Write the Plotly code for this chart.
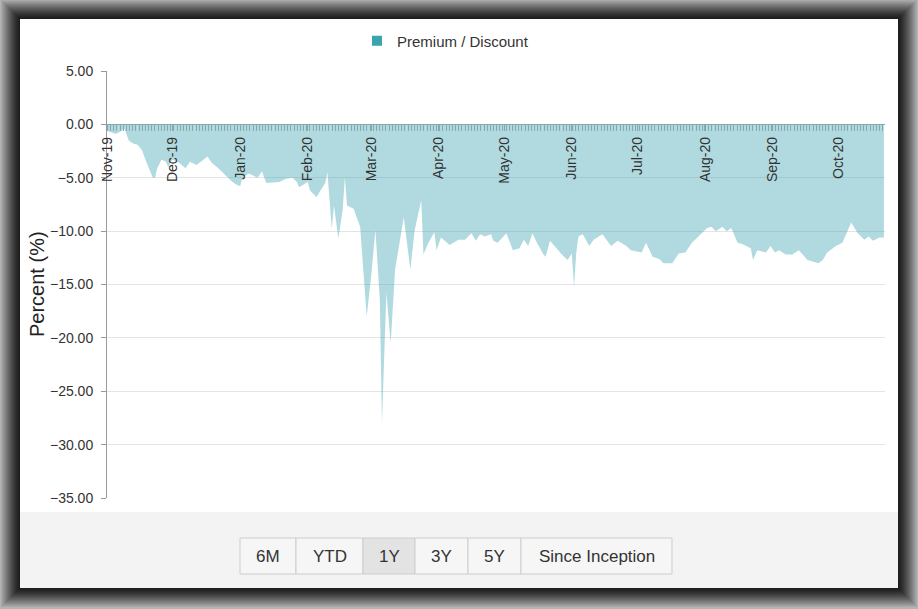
import plotly.graph_objects as go

# Premium / discount to NAV (%)
dates = [
    "2019-11-01", "2019-11-05", "2019-11-07", "2019-11-09", "2019-11-11", "2019-11-13",
    "2019-11-15", "2019-11-17", "2019-11-19", "2019-11-22", "2019-11-23", "2019-11-24",
    "2019-11-26", "2019-11-28", "2019-11-29", "2019-12-01", "2019-12-04", "2019-12-07",
    "2019-12-09", "2019-12-12", "2019-12-14", "2019-12-17", "2019-12-19", "2019-12-22",
    "2019-12-26", "2019-12-28", "2019-12-30", "2020-01-01", "2020-01-02", "2020-01-05",
    "2020-01-09", "2020-01-11", "2020-01-13", "2020-01-19", "2020-01-22", "2020-01-25",
    "2020-01-27", "2020-01-28", "2020-02-01", "2020-02-02", "2020-02-05", "2020-02-06",
    "2020-02-09", "2020-02-10", "2020-02-12", "2020-02-13", "2020-02-15", "2020-02-17",
    "2020-02-18", "2020-02-19", "2020-02-22", "2020-02-25", "2020-02-28", "2020-03-01",
    "2020-03-03", "2020-03-05", "2020-03-06", "2020-03-08", "2020-03-10", "2020-03-12",
    "2020-03-14", "2020-03-16", "2020-03-19", "2020-03-21", "2020-03-24", "2020-03-25",
    "2020-03-27", "2020-03-30", "2020-03-31", "2020-04-02", "2020-04-06", "2020-04-10",
    "2020-04-13", "2020-04-16", "2020-04-18", "2020-04-20", "2020-04-22", "2020-04-25",
    "2020-04-26", "2020-04-28", "2020-05-02", "2020-05-05", "2020-05-08", "2020-05-10",
    "2020-05-12", "2020-05-14", "2020-05-16", "2020-05-19", "2020-05-20", "2020-05-22",
    "2020-05-25", "2020-05-27", "2020-05-30", "2020-06-01", "2020-06-02", "2020-06-03",
    "2020-06-04", "2020-06-06", "2020-06-09", "2020-06-11", "2020-06-15", "2020-06-19",
    "2020-06-22", "2020-06-26", "2020-06-28", "2020-07-03", "2020-07-05", "2020-07-08",
    "2020-07-11", "2020-07-13", "2020-07-17", "2020-07-20", "2020-07-23", "2020-07-26",
    "2020-07-29", "2020-08-02", "2020-08-04", "2020-08-06", "2020-08-09", "2020-08-11",
    "2020-08-13", "2020-08-16", "2020-08-18", "2020-08-22", "2020-08-23", "2020-08-25",
    "2020-08-29", "2020-08-31", "2020-09-02", "2020-09-04", "2020-09-07", "2020-09-10",
    "2020-09-13", "2020-09-17", "2020-09-22", "2020-09-24", "2020-09-26", "2020-09-30",
    "2020-10-03", "2020-10-05", "2020-10-07", "2020-10-10", "2020-10-13", "2020-10-15",
    "2020-10-17", "2020-10-20", "2020-10-22",
]
premium_discount = [
    -0.6, -0.9, -0.7, -0.4, -1.5, -1.8,
    -1.9, -2.4, -3.5, -5.0, -5.0, -4.1,
    -3.3, -3.5, -4.0, -3.3, -3.6, -4.1,
    -3.5, -3.8, -3.5, -3.0, -3.6, -4.1,
    -4.9, -5.3, -5.6, -5.8, -5.0, -4.6,
    -5.0, -4.4, -5.5, -5.4, -5.1, -5.0,
    -5.4, -5.9, -5.4, -6.2, -6.8, -6.5,
    -5.5, -4.5, -9.8, -7.6, -10.7, -8.0,
    -5.0, -7.6, -7.9, -9.6, -18.0, -14.3,
    -9.9, -16.4, -28.0, -15.8, -20.5, -13.6,
    -11.2, -8.7, -13.6, -9.9, -7.1, -12.2,
    -11.2, -10.1, -11.8, -10.6, -11.3, -10.8,
    -10.8, -10.2, -10.9, -10.3, -10.5, -10.3,
    -10.9, -11.1, -10.2, -11.8, -11.6, -10.8,
    -11.4, -10.2, -11.1, -12.2, -12.4, -10.9,
    -11.6, -12.1, -12.7, -12.1, -15.2, -12.1,
    -10.5, -10.3, -11.4, -10.8, -10.3, -11.4,
    -10.9, -11.4, -11.8, -12.0, -11.1, -12.4,
    -12.6, -13.0, -13.0, -12.1, -12.0, -11.1,
    -10.5, -9.7, -9.6, -10.0, -9.6, -10.0,
    -9.7, -11.1, -11.2, -11.6, -12.7, -11.8,
    -12.0, -11.4, -12.0, -11.8, -12.2, -12.2,
    -11.8, -12.7, -13.0, -12.7, -12.0, -11.4,
    -11.1, -10.2, -9.2, -10.2, -10.8, -10.5,
    -10.9, -10.6, -10.6,
]
range_buttons = ["6M", "YTD", "1Y", "3Y", "5Y", "Since Inception"]
active_button = "1Y"

# page geometry (pixels)
W, H = 918, 609
L, R, T, B = 107, 885, 71, 498


def px(x):
    return (x - L) / (R - L)


def py(y):
    return (B - y) / (B - T)


FONT = "Liberation Sans, Arial, sans-serif"

fig = go.Figure()
fig.add_trace(go.Scatter(
    x=dates, y=premium_discount, mode="lines", fill="tozeroy",
    line=dict(width=0, color="rgba(58,163,175,0.4)"),
    fillcolor="rgba(58,163,175,0.4)", showlegend=False,
    hovertemplate="%{x|%b %d, %Y}: %{y:.2f}%<extra></extra>",
))
# legend entry
fig.add_trace(go.Scatter(
    x=[None], y=[None], mode="markers", name="Premium / Discount",
    marker=dict(symbol="square", size=10, color="#3aa3af"),
))

shapes = []
# dark frame with soft shadow
for k in range(20, 0, -1):
    t = (k - 1) / 19
    v = int(30 + 150 * t ** 1.3)
    c = f"rgb({v},{v},{v})"
    shapes.append(dict(type="rect", xref="paper", yref="paper", layer="below",
                       x0=px(20 - k), x1=px(898 + k), y0=py(588 + k), y1=py(19 - k),
                       fillcolor=c, line=dict(width=0)))
# white panel
shapes.append(dict(type="rect", xref="paper", yref="paper", layer="below",
                   x0=px(20), x1=px(898), y0=py(588), y1=py(19),
                   fillcolor="white", line=dict(width=0)))
# button bar
shapes.append(dict(type="rect", xref="paper", yref="paper", layer="below",
                   x0=px(20), x1=px(898), y0=py(588), y1=py(512),
                   fillcolor="#f3f3f3", line=dict(width=0)))

annotations = []
edges = [240, 296, 363, 415, 468, 521, 672]
for i, lab in enumerate(range_buttons):
    fill = "#e3e3e3" if lab == active_button else "#f6f6f6"
    shapes.append(dict(type="rect", xref="paper", yref="paper",
                       x0=px(edges[i]), x1=px(edges[i + 1]), y0=py(574), y1=py(538),
                       fillcolor=fill, line=dict(color="#cdcdcd", width=1)))
    annotations.append(dict(xref="paper", yref="paper", showarrow=False,
                            x=px((edges[i] + edges[i + 1]) / 2), y=py(556),
                            text=lab, font=dict(family=FONT, size=17, color="#333"),
                            xanchor="center", yanchor="middle"))

annotations.append(dict(xref="paper", yref="paper", showarrow=False,
                        x=px(37), y=py(284), text="Percent (%)", textangle=-90,
                        font=dict(family=FONT, size=20, color="#222"),
                        xanchor="center", yanchor="middle"))

fig.update_layout(
    width=W, height=H,
    margin=dict(l=L, r=W - R, t=T, b=H - B, pad=0),
    paper_bgcolor="#b4b4b4", plot_bgcolor="rgba(0,0,0,0)",
    font=dict(family=FONT, color="#333"),
    shapes=shapes, annotations=annotations,
    legend=dict(orientation="h", x=px(357), xanchor="left", y=py(41), yanchor="middle",
                font=dict(family=FONT, size=15, color="#333"), bgcolor="rgba(0,0,0,0)",
                itemwidth=30),
    xaxis=dict(
        type="date", range=["2019-11-01", "2020-10-22 12:00"],
        anchor="free", position=35 / 40, side="bottom",
        showgrid=False, zeroline=False,
        showline=True, linecolor="#86a8af", linewidth=1,
        ticks="outside", ticklen=6, tickcolor="#86a8af",
        dtick="M1", tick0="2019-11-01", tickformat="%b-%y", tickangle=-90,
        tickfont=dict(family=FONT, size=14, color="#333"),
        minor=dict(ticks="outside", ticklen=6, tickcolor="#86a8af",
                   dtick=86400000 * 1.45, showgrid=False),
    ),
    yaxis=dict(
        range=[-35, 5], dtick=5, tickformat=".2f",
        showgrid=True, gridcolor="#e4e4e4", gridwidth=1, zeroline=False,
        showline=True, linecolor="#999", linewidth=1,
        ticks="outside", ticklen=5, tickcolor="#999", ticklabelstandoff=5,
        tickfont=dict(family=FONT, size=14, color="#333"),
    ),
)

fig.write_html("out.html", config={"displayModeBar": False},
               post_script="document.body.style.margin='0';document.body.style.overflow='hidden';")
